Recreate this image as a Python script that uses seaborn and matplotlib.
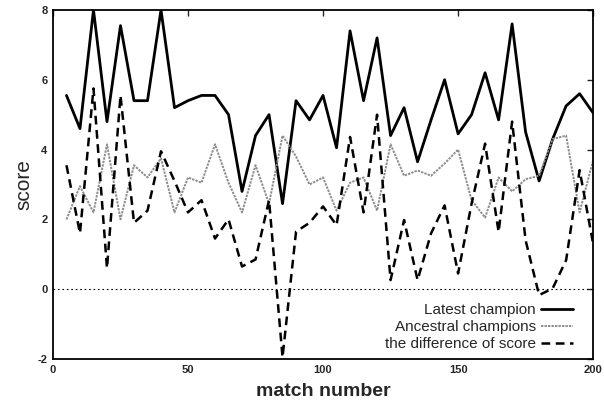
import numpy as np
import pandas as pd
import matplotlib
matplotlib.use("Agg")
import matplotlib.pyplot as plt
import seaborn as sns

# match numbers (every 5th match)
match = list(range(5, 205, 5))

latest = [5.55, 4.6, 8.0, 4.8, 7.55, 5.4, 5.4, 8.0, 5.2, 5.4,
          5.55, 5.55, 5.0, 2.8, 4.4, 5.0, 2.45, 5.4, 4.85, 5.55,
          4.05, 7.4, 5.4, 7.2, 4.4, 5.2, 3.65, 4.85, 6.0, 4.45,
          5.0, 6.2, 4.85, 7.6, 4.5, 3.1, 4.3, 5.25, 5.6, 5.05]

ancestral = [2.0, 2.95, 2.2, 4.15, 2.0, 3.55, 3.2, 3.75, 2.2, 3.2,
             3.05, 4.15, 3.05, 2.2, 3.55, 2.45, 4.4, 3.8, 3.0, 3.2,
             2.25, 3.05, 3.2, 2.25, 4.15, 3.25, 3.4, 3.25, 3.6, 4.0,
             2.55, 2.05, 3.2, 2.8, 3.15, 3.25, 4.3, 4.4, 2.2, 3.7]

difference = [3.55, 1.6, 5.75, 0.6, 5.55, 1.9, 2.25, 3.95, 3.1, 2.2,
              2.55, 1.45, 2.0, 0.65, 0.85, 2.55, -1.95, 1.65, 1.9, 2.37,
              1.83, 4.36, 2.2, 5.0, 0.26, 1.98, 0.26, 1.6, 2.4, 0.45,
              2.45, 4.17, 1.64, 4.8, 1.4, -0.17, 0.02, 0.83, 3.41, 1.3]

x_ticks = [0, 50, 100, 150, 200]
y_ticks = [-2, 0, 2, 4, 6, 8]

sns.set_style("white")
plt.rcParams["font.family"] = ["Liberation Sans", "DejaVu Sans"]
plt.rcParams["axes.unicode_minus"] = False

df = pd.DataFrame({"match": match, "latest": latest,
                   "ancestral": ancestral, "difference": difference})

fig = plt.figure(figsize=(6.04, 4.07), dpi=100)
ax = fig.add_axes([0.0877, 0.118, 0.8943, 0.8576])

sns.lineplot(data=df, x="match", y="latest", ax=ax, color="black",
             linewidth=2.0, label="Latest champion")
sns.lineplot(data=df, x="match", y="ancestral", ax=ax, color="0.55",
             linewidth=1.4, linestyle=(0, (1.2, 0.6)), label="Ancestral champions")
sns.lineplot(data=df, x="match", y="difference", ax=ax, color="black",
             linewidth=1.8, linestyle=(0, (3.5, 2.2)), label="the difference of score")
ax.axhline(0, color="black", linewidth=0.8, linestyle=(0, (1.5, 2.5)))

ax.set_xlim(0, 200)
ax.set_ylim(-2, 8)
ax.set_xticks(x_ticks)
ax.set_yticks(y_ticks)
ax.tick_params(direction="in", length=4, width=1, top=True, right=True,
               labelsize=8, pad=4)
for lab in ax.get_xticklabels() + ax.get_yticklabels():
    lab.set_fontweight("bold")
for side in ["left", "bottom", "top", "right"]:
    ax.spines[side].set_linewidth(1.3)
    ax.spines[side].set_color("black")

ax.set_xlabel("match number", fontsize=14, fontweight="bold", labelpad=6)
ax.set_ylabel("score", fontsize=15, labelpad=3)

ax.legend(loc="lower right", bbox_to_anchor=(0.9745, 0.005), borderaxespad=0,
          frameon=False, markerfirst=False, fontsize=11,
          handlelength=2.1, handletextpad=0.35, labelspacing=0.2)

fig.savefig("out.png", dpi=100)
